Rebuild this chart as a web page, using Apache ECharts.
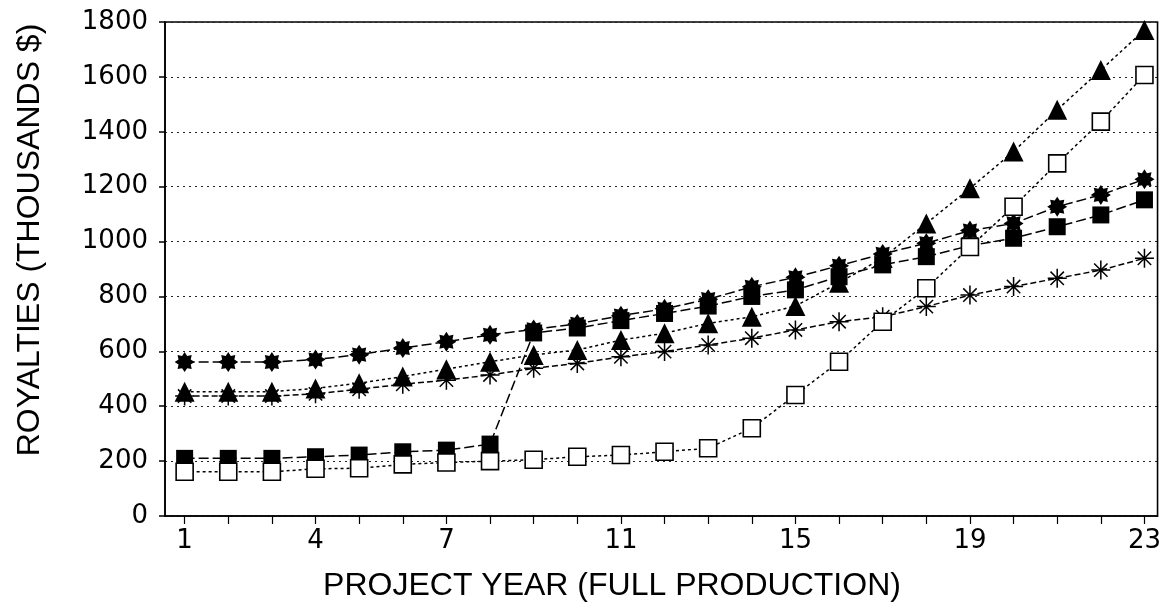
<!DOCTYPE html>
<html>
<head>
<meta charset="utf-8">
<script src="https://cdn.jsdelivr.net/npm/echarts@6/dist/echarts.min.js"></script>
<style>
html,body{margin:0;padding:0;background:#fff;}
#chart{width:1164px;height:609px;}
</style>
</head>
<body>
<div id="chart"></div>
<script>
const years = [1,2,3,4,5,6,7,8,9,10,11,12,13,14,15,16,17,18,19,20,21,22,23];
const xTickLabels = [1,4,7,11,15,19,23];
const yTicks = [0,200,400,600,800,1000,1200,1400,1600,1800];

// filled triangles
const triangleVals = [453,453,453,465,484,508,535,562,587,605,641,666,702,726,765,850,940,1066,1194,1328,1480,1625,1771];
// open squares
const openSquareVals = [161,161,161,172,174,188,195,200,205,216,222,234,247,320,441,562,708,830,980,1127,1285,1437,1607];
// bold stars
const starVals = [561,561,561,570,588,612,635,660,680,700,730,755,790,835,870,912,955,994,1040,1066,1127,1170,1227];
// filled squares
const filledSquareVals = [210,210,210,216,222,234,240,262,667,685,712,738,765,800,824,872,915,945,985,1012,1054,1097,1152];
// thin asterisks
const asteriskVals = [437,437,437,445,462,480,495,514,538,556,580,599,623,648,678,708,726,763,805,836,866,896,939];

const xAxisName = 'PROJECT YEAR (FULL PRODUCTION)';
const yAxisName = 'ROYALTIES (THOUSANDS $)';

function pairs(vals){ return years.map((y,i)=>[y, vals[i]]); }

// bold 8-point star symbol
let starPath = 'path://';
for (let i=0;i<16;i++){
  const a = i*Math.PI/8 - Math.PI/2;
  const r = (i%2) ? 6.6 : 10;
  starPath += (i===0?'M':'L') + (r*Math.cos(a)).toFixed(2) + ',' + (r*Math.sin(a)).toFixed(2) + ' ';
}
starPath += 'Z';
// thin asterisk symbol
const asteriskPath = 'path://M-0.8,-10 L0.8,-10 L0.8,10 L-0.8,10 Z M-10,-0.8 L10,-0.8 L10,0.8 L-10,0.8 Z M-6.5,-7.6 L7.6,6.5 L6.5,7.6 L-7.6,-6.5 Z M-7.6,6.5 L6.5,-7.6 L7.6,-6.5 L-6.5,7.6 Z';

const chart = echarts.init(document.getElementById('chart'), null, {renderer:'canvas'});
const numFont = 'DejaVu Sans';

function lineSeries(name, vals, symbol, size, lineType, itemStyle, z){
  return {
    name, type:'line', data: pairs(vals), symbol, symbolSize: size,
    lineStyle:{color:'#000', width:1.5, type: lineType},
    itemStyle, z, animation:false
  };
}

chart.setOption({
  animation:false,
  backgroundColor:'#fff',
  grid:{left:165, right:4, top:22, bottom:93, show:true, borderColor:'#000', borderWidth:1.6},
  xAxis:{
    type:'value', min:0.55, max:23.3,
    axisLine:{show:true, lineStyle:{color:'#000', width:1.6}},
    axisTick:{show:true, length:8, lineStyle:{color:'#000', width:1.2}, customValues: years},
    axisLabel:{color:'#000', fontFamily:numFont, fontSize:26, margin:12, customValues: xTickLabels},
    splitLine:{show:false}
  },
  yAxis:{
    type:'value', min:0, max:1800, interval:200,
    axisLine:{show:true, lineStyle:{color:'#000', width:1.6}},
    axisTick:{show:true, length:6, lineStyle:{color:'#000', width:1.5}},
    axisLabel:{color:'#000', fontFamily:numFont, fontSize:26, margin:17,
      formatter: v => yTicks.includes(v) ? String(v) : ''},
    splitLine:{show:true, lineStyle:{color:'#222', width:1.2, type:[2,4]}}
  },
  graphic:[
    {type:'text', x:612, y:586, style:{text:xAxisName, font:'32px Liberation Sans', fill:'#000', textAlign:'center', textVerticalAlign:'middle'}},
    {type:'text', x:30, y:240, rotation:Math.PI/2, style:{text:yAxisName, font:'32px Liberation Sans', fill:'#000', textAlign:'center', textVerticalAlign:'middle'}}
  ],
  series:[
    lineSeries('asterisk', asteriskVals, asteriskPath, 19, [6,3], {color:'#000'}, 2),
    lineSeries('triangle', triangleVals, 'triangle', 20, [3,3], {color:'#000'}, 3),
    lineSeries('star', starVals, starPath, 20, [10,4], {color:'#000'}, 4),
    lineSeries('filledSquare', filledSquareVals, 'rect', 17, [10,4], {color:'#000'}, 5),
    lineSeries('openSquare', openSquareVals, 'rect', 17, [3,3], {color:'#fff', borderColor:'#000', borderWidth:1.6}, 6)
  ]
});
</script>
</body>
</html>
